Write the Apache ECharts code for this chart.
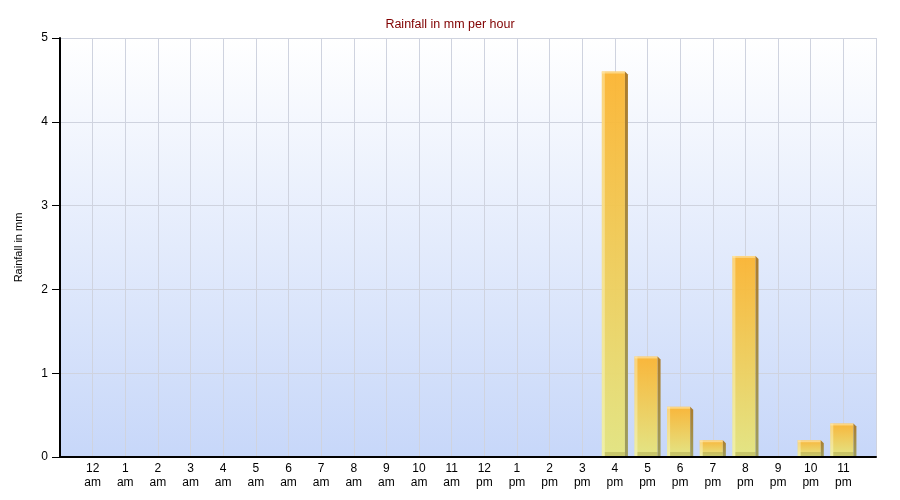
<!DOCTYPE html>
<html>
<head>
<meta charset="utf-8">
<script src="https://cdn.jsdelivr.net/npm/echarts@6/dist/echarts.min.js"></script>
<style>html,body{margin:0;padding:0;background:#fff}#c{width:900px;height:500px}</style>
</head>
<body>
<div id="c"></div>
<script>
const hours = ['12','1','2','3','4','5','6','7','8','9','10','11','12','1','2','3','4','5','6','7','8','9','10','11'];
const periods = ['am','am','am','am','am','am','am','am','am','am','am','am','pm','pm','pm','pm','pm','pm','pm','pm','pm','pm','pm','pm'];
const rainfall = [0,0,0,0,0,0,0,0,0,0,0,0,0,0,0,0,4.6,1.2,0.6,0.2,2.4,0,0.2,0.4];
const yTicks = [0,1,2,3,4,5];

const FONT = 'Liberation Sans';
const chart = echarts.init(document.getElementById('c'), null, {renderer:'canvas'});

const seriesData = rainfall.map((v,i)=>[i+1, v]);

function renderBar(params, api){
  const x = api.value(0), y = api.value(1);
  if (!(y > 0)) return null;
  const top = api.coord([x, y]);
  const base = api.coord([x, 0]);
  const band = api.size([1, 0])[0];
  const half = band * 0.4;
  const c = top[0];
  const L = c - half, R = c + half;
  const side = 3;
  const fr = R - side;
  const t = top[1], b = base[1] - 1;
  const h = b - t;
  return {
    type: 'group',
    children: [
      {type:'rect', shape:{x:L, y:t, width:fr-L, height:h},
       style:{fill:new echarts.graphic.LinearGradient(0,0,0,1,[{offset:0,color:'#fbb431'},{offset:1,color:'#e4e57f'}]), opacity:0.95}},
      {type:'rect', shape:{x:L, y:t, width:3, height:h},
       style:{fill:'rgba(255,255,220,0.4)'}},
      {type:'rect', shape:{x:L, y:t, width:fr-L, height:Math.min(2,h)},
       style:{fill:'rgba(255,235,180,0.6)'}},
      {type:'polygon', shape:{points:[[fr,t],[R,t+Math.min(3,h)],[R,b],[fr,b]]},
       style:{fill:new echarts.graphic.LinearGradient(0,0,0,1,[{offset:0,color:'#ac7c2c'},{offset:1,color:'#9e9d5d'}])}},
      {type:'rect', shape:{x:L+3, y:b-Math.min(4,h), width:fr-L-3, height:Math.min(4,h)},
       style:{fill:'rgba(120,110,30,0.25)'}}
    ]
  };
}

chart.setOption({
  animation:false,
  backgroundColor:'#ffffff',
  title:{
    text:'Rainfall in mm per hour', left:'center', top:13,
    textStyle:{fontFamily:FONT, fontSize:12.5, fontWeight:'normal', color:'#800000'}
  },
  grid:{
    left:60, right:24, top:38, bottom:43, show:true, borderWidth:0,
    backgroundColor:new echarts.graphic.LinearGradient(0,0,0,1,[{offset:0,color:'#ffffff'},{offset:1,color:'#c7d7f9'}])
  },
  xAxis:{
    type:'value', min:0, max:hours.length+1, interval:1,
    axisLine:{show:true, onZero:false, lineStyle:{color:'#000', width:2}},
    axisTick:{show:false},
    splitLine:{show:true, lineStyle:{color:'#cfd3df', width:1}},
    axisLabel:{
      margin:5, fontFamily:FONT, fontSize:12, color:'#000', lineHeight:14,
      showMinLabel:true, showMaxLabel:true,
      formatter:function(v){
        const i = Math.round(v) - 1;
        if (i < 0 || i >= hours.length) return '';
        return hours[i] + '\n' + periods[i];
      }
    }
  },
  yAxis:{
    type:'value', min:yTicks[0], max:yTicks[yTicks.length-1], interval:1,
    name:'Rainfall in mm', nameLocation:'middle', nameGap:36, nameRotate:90,
    nameTextStyle:{fontFamily:FONT, fontSize:11, color:'#000'},
    axisLine:{show:true, lineStyle:{color:'#000', width:2}},
    axisTick:{show:true, inside:false, length:8, lineStyle:{color:'#000', width:1}},
    splitLine:{show:true, lineStyle:{color:'#cfd3df', width:1}},
    axisLabel:{margin:12, fontFamily:FONT, fontSize:12, color:'#000'}
  },
  series:[{
    type:'custom',
    renderItem:renderBar,
    encode:{x:0, y:1},
    data:seriesData,
    z:3
  }]
});
</script>
</body>
</html>
